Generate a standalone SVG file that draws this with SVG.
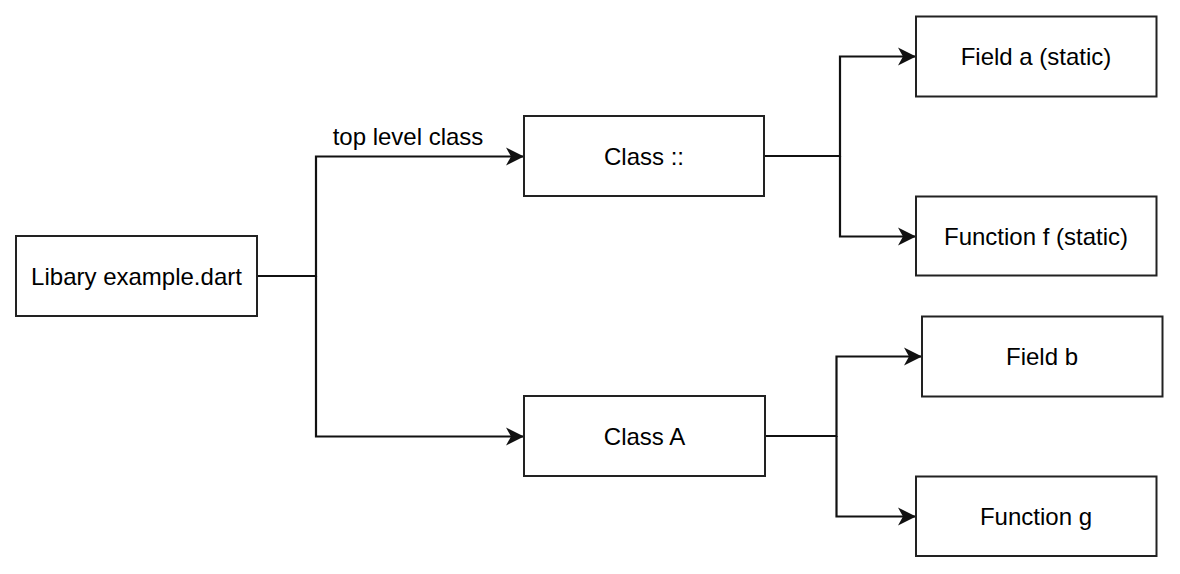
<svg xmlns="http://www.w3.org/2000/svg" width="1180" height="574" viewBox="0 0 1180 574">
<style>
.box{fill:#fff;stroke:#222;stroke-width:2}
.lbl{font-family:"Liberation Sans",Arial,sans-serif;font-size:24px;fill:#000;text-anchor:middle}
.edge{fill:none;stroke:#111;stroke-width:2.2}
</style>
<defs>
<marker id="arr" markerUnits="userSpaceOnUse" markerWidth="22" markerHeight="22" refX="18" refY="11" orient="auto">
<path d="M0,2 L18,11 L0,20 L5,11 Z" fill="#111"/>
</marker>
</defs>
<rect width="1180" height="574" fill="#fff"/>
<g id="connectors">
<path class="edge" d="M257,276 H316 V156.5 H524" marker-end="url(#arr)"/>
<path class="edge" d="M316,276 V436.5 H524" marker-end="url(#arr)"/>
<path class="edge" d="M764,156 H840 V56.5 H916" marker-end="url(#arr)"/>
<path class="edge" d="M840,156 V236.5 H916" marker-end="url(#arr)"/>
<path class="edge" d="M764,436 H836.5 V356.5 H922" marker-end="url(#arr)"/>
<path class="edge" d="M836.5,436 V516.5 H916" marker-end="url(#arr)"/>
<text class="lbl" x="408" y="145">top level class</text>
</g>
<g id="lib"><rect class="box" x="16" y="236" width="241" height="80"/><text class="lbl" x="136.5" y="284.5">Libary example.dart</text></g>
<g id="classColons"><rect class="box" x="524" y="116" width="240" height="80"/><text class="lbl" x="644" y="164.5">Class ::</text></g>
<g id="classA"><rect class="box" x="524" y="396" width="241" height="80"/><text class="lbl" x="644.5" y="444.5">Class A</text></g>
<g id="fieldA"><rect class="box" x="916" y="16.5" width="240.5" height="80"/><text class="lbl" x="1036" y="65">Field a (static)</text></g>
<g id="functionF"><rect class="box" x="916" y="196.5" width="240.5" height="79"/><text class="lbl" x="1036" y="244.5">Function f (static)</text></g>
<g id="fieldB"><rect class="box" x="922" y="316.5" width="240.5" height="80"/><text class="lbl" x="1042" y="365">Field b</text></g>
<g id="functionG"><rect class="box" x="916" y="476.5" width="240.5" height="79.5"/><text class="lbl" x="1036" y="525">Function g</text></g>
</svg>
